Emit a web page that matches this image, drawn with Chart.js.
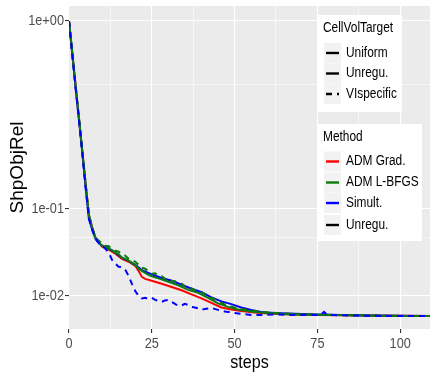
<!DOCTYPE html>
<html>
<head>
<meta charset="utf-8">
<script src="https://cdn.jsdelivr.net/npm/chart.js@4.4.1/dist/chart.umd.min.js"></script>
<style>
  html, body { margin: 0; padding: 0; background: #ffffff; }
  #wrap { width: 430px; height: 378px; position: relative; }
</style>
</head>
<body>
<div id="wrap"><canvas id="chart" width="430" height="378"></canvas></div>
<script>
// ---- axis breaks ----
const yMajorBreaks = [0.01, 0.1, 1];
const yMajorLabels = ['1e-02', '1e-01', '1e+00'];
const yMinorBreaks = [0.055, 0.55];
const xMajorBreaks = [0, 25, 50, 75, 100];
const xMinorBreaks = [12.5, 37.5, 62.5, 87.5];

// ---- ADM Grad. (Uniform) ----
const gradSteps = [0,1,2,3,4,5,6,7,8,9,10,12,14,16,18,20,21,22,23,25,28,31,34,37,40,43,46,49,52,56,60,67,75,90,110];
const gradValues = [1,0.749,0.539,0.377,0.251,0.154,0.0893,0.0688,0.0553,0.0493,0.0449,0.0417,0.0377,0.0330,0.0305,0.0272,0.0235,0.0195,0.0183,0.0172,0.0155,0.0139,0.0123,0.0105,0.00896,0.00739,0.00602,0.00547,0.00508,0.00471,0.00447,0.00424,0.00413,0.00402,0.00391];

// ---- ADM L-BFGS (Uniform) ----
const lbfgsSteps = [0,1,2,3,4,5,6,7,8,9,10,11,12,13,14,15,16,17,18,19,20,21,22,23,24,25,27,30,33,36,39,42,45,48,51,55,58,60,65,70,80,90,100,110];
const lbfgsValues = [1,0.749,0.539,0.377,0.251,0.154,0.0893,0.0688,0.0553,0.0493,0.0460,0.0443,0.0427,0.0412,0.0387,0.0372,0.0339,0.0330,0.0313,0.0296,0.0280,0.0250,0.0235,0.0221,0.0208,0.0199,0.0186,0.0166,0.0147,0.0125,0.0112,0.00915,0.00723,0.00617,0.00547,0.00496,0.00471,0.00459,0.00436,0.00424,0.00413,0.00402,0.00391,0.00391];

// ---- ADM L-BFGS (VIspecific) ----
const lbfgsVISteps = [0,1,2,3,4,5,6,7,8,9,10,11,12,13,14,15,16,17,18,19,20,21,22,23,24,25,26,27,28,29,30,31,32,33,34,35,36,38,40,42,44,46,48,51,55,60,65,70,80,90,100,110];
const lbfgsVIValues = [1,0.749,0.539,0.377,0.251,0.154,0.0893,0.0688,0.0553,0.0517,0.0482,0.0460,0.0454,0.0427,0.0407,0.0396,0.0377,0.0358,0.0330,0.0322,0.0305,0.0280,0.0257,0.0250,0.0232,0.0215,0.0218,0.0202,0.0199,0.0183,0.0186,0.0172,0.0169,0.0155,0.0155,0.0142,0.0139,0.0125,0.0116,0.00993,0.00860,0.00739,0.00646,0.00574,0.00521,0.00471,0.00447,0.00424,0.00413,0.00402,0.00391,0.00391];

// ---- Simult. (Uniform) ----
const simSteps = [0,1,2,3,4,5,6,7,8,9,10,12,14,16,18,20,22,25,28,31,34,37,40,43,46,49,52,55,58,62,66,75,90,110];
const simValues = [1,0.74,0.53,0.37,0.245,0.1465,0.0826,0.066,0.054,0.049,0.046,0.0427,0.0387,0.0339,0.0313,0.0280,0.0240,0.0211,0.0188,0.0172,0.0150,0.0130,0.0115,0.00934,0.00789,0.0070,0.00602,0.0053,0.00483,0.0046,0.00447,0.00424,0.00402,0.00391];

// ---- Simult. (VIspecific) ----
const simVISteps = [0,1,2,3,4,5,6,7,8,9,10,11,12,13,14,15,16,17,18,19,20,21,22,23,24,25,26,27,28,29,30,31,32,33,34,35,36,37,38,39,40,41,42,43,44,45,46,47,48,49,50,52,55,58,62,66,70,76,77,78,85,95,110];
const simVIValues = [1,0.74,0.53,0.37,0.245,0.1465,0.0826,0.066,0.054,0.049,
  0.0460,0.0427,0.0387,0.0321,0.0288,0.0265,0.0261,0.0242,0.0202,0.0155,
  0.0120,0.00993,0.00896,0.00915,0.00878,0.00915,0.00842,0.00807,0.00773,0.00824,
  0.00842,0.00773,0.00708,0.00646,0.00661,0.00708,0.00676,0.00617,0.00602,0.00574,
  0.00534,0.00561,0.00574,0.00588,0.00561,0.00534,0.00508,0.00496,0.00483,0.00483,
  0.00459,0.00436,0.00413,0.00413,0.00424,0.00413,0.00413,0.00413,0.00483,0.00413,0.00402,0.00391,0.00391];

// ---- legend entries ----
const cellVolTargets = ['Uniform', 'Unregu.', 'VIspecific'];
const methods = ['ADM Grad.', 'ADM L-BFGS', 'Simult.', 'Unregu.'];
const methodColors = ['#ff0000', '#0a7a0a', '#0000ff', '#000000'];

const FONT = "'Liberation Sans', Arial, sans-serif";
const TEXT_SQUEEZE = 0.85;   // horizontal squeeze for upright labels

const canvas = document.getElementById('chart');
const ctx2d = canvas.getContext('2d');
// Upright text is drawn slightly condensed; rotated text (axis title) is left as is.
const baseFillText = ctx2d.fillText.bind(ctx2d);
ctx2d.fillText = function (text, x, y, maxWidth) {
  const m = this.getTransform();
  if (Math.abs(m.b) > 1e-6 || Math.abs(m.c) > 1e-6) {
    return maxWidth === undefined ? baseFillText(text, x, y) : baseFillText(text, x, y, maxWidth);
  }
  this.save();
  this.translate(x, y);
  this.scale(TEXT_SQUEEZE, 1);
  if (maxWidth === undefined) baseFillText(text, 0, 0);
  else baseFillText(text, 0, 0, maxWidth / TEXT_SQUEEZE);
  this.restore();
};

// Cube-root y scale: linear in v^(1/3)
class CubeRootScale extends Chart.LinearScale {
  getPixelForValue(value) {
    if (value === null || value === undefined) return NaN;
    const a = Math.cbrt(this.min), b = Math.cbrt(this.max);
    return this.getPixelForDecimal((Math.cbrt(value) - a) / (b - a));
  }
  getValueForPixel(pixel) {
    const a = Math.cbrt(this.min), b = Math.cbrt(this.max);
    const t = a + this.getDecimalForPixel(pixel) * (b - a);
    return t * t * t;
  }
}
CubeRootScale.id = 'cuberoot';
CubeRootScale.defaults = {};
Chart.register(CubeRootScale);

const pts = (xs, ys) => xs.map((x, i) => ({ x: x, y: ys[i] }));

function series(label, xs, ys, color, dashed, order) {
  return {
    label: label,
    data: pts(xs, ys),
    borderColor: color,
    backgroundColor: color,
    borderWidth: 2,
    borderDash: dashed ? [6, 5] : [],
    pointRadius: 0,
    tension: 0,
    fill: false,
    order: order
  };
}

const isMajorY = v => yMajorBreaks.some(b => Math.abs(b - v) < 1e-9);
const isMajorX = v => xMajorBreaks.includes(v);

// grey panel behind the grid
const panelBackground = {
  id: 'panelBackground',
  beforeDraw(chart) {
    const { ctx, chartArea: a } = chart;
    ctx.save();
    ctx.fillStyle = '#ebebeb';
    ctx.fillRect(a.left, a.top, a.right - a.left, a.bottom - a.top);
    ctx.restore();
  }
};

// two ggplot-style legend boxes
const legendBoxes = {
  id: 'legendBoxes',
  afterDraw(chart) {
    const ctx = chart.ctx;
    ctx.save();
    const drawBox = (x, y, w, h, title, titleY, entries) => {
      ctx.fillStyle = '#ffffff';
      ctx.fillRect(x, y, w, h);
      ctx.fillStyle = '#000000';
      ctx.font = '14px ' + FONT;
      ctx.textBaseline = 'middle';
      ctx.textAlign = 'left';
      ctx.fillText(title, x + 6, titleY);
      entries.forEach(e => {
        ctx.fillStyle = '#f2f2f2';
        ctx.fillRect(x + 7, e.y - 10, 17, 20);
        ctx.strokeStyle = e.color;
        ctx.lineWidth = 2.4;
        ctx.setLineDash(e.dash || []);
        ctx.beginPath();
        ctx.moveTo(x + 9, e.y);
        ctx.lineTo(x + 22, e.y);
        ctx.stroke();
        ctx.setLineDash([]);
        ctx.fillStyle = '#000000';
        ctx.fillText(e.label, x + 29, e.y);
      });
    };
    drawBox(317, 15, 85, 97, 'CellVolTarget', 28, [
      { label: cellVolTargets[0], y: 53, color: '#000000' },
      { label: cellVolTargets[1], y: 73.5, color: '#000000' },
      { label: cellVolTargets[2], y: 94, color: '#000000', dash: [6, 5] }
    ]);
    drawBox(317, 124, 105, 117, 'Method', 137, [
      { label: methods[0], y: 161.5, color: methodColors[0] },
      { label: methods[1], y: 182.5, color: methodColors[1] },
      { label: methods[2], y: 203, color: methodColors[2] },
      { label: methods[3], y: 225, color: methodColors[3] }
    ]);
    ctx.restore();
  }
};

new Chart(canvas, {
  type: 'line',
  data: {
    datasets: [
      series('ADM Grad. / Uniform', gradSteps, gradValues, methodColors[0], false, 5),
      series('Simult. / Uniform', simSteps, simValues, methodColors[2], false, 4),
      series('ADM L-BFGS / Uniform', lbfgsSteps, lbfgsValues, methodColors[1], false, 3),
      series('ADM L-BFGS / VIspecific', lbfgsVISteps, lbfgsVIValues, methodColors[1], true, 2),
      series('Simult. / VIspecific', simVISteps, simVIValues, methodColors[2], true, 1)
    ]
  },
  options: {
    responsive: false,
    animation: false,
    devicePixelRatio: 1,
    layout: { padding: { top: 6, left: 0, right: 0, bottom: 0 } },
    plugins: { legend: { display: false }, tooltip: { enabled: false } },
    scales: {
      x: {
        type: 'linear',
        min: 0,
        max: 109,
        afterBuildTicks(scale) {
          scale.ticks = xMajorBreaks.concat(xMinorBreaks).sort((a, b) => a - b).map(v => ({ value: v }));
        },
        afterFit(scale) {
          scale.height = 49;
          scale.paddingLeft = 0;
          scale.paddingRight = 0;
        },
        border: { display: false },
        grid: {
          color: '#ffffff',
          lineWidth: c => (c.tick && isMajorX(c.tick.value)) ? 1.1 : 0.55,
          tickColor: c => (c.tick && isMajorX(c.tick.value)) ? '#333333' : 'rgba(0,0,0,0)',
          tickLength: 4,
          tickWidth: 1.1
        },
        ticks: {
          autoSkip: false,
          maxRotation: 0,
          padding: 2,
          color: '#4d4d4d',
          font: { family: FONT, size: 15 },
          callback: v => isMajorX(v) ? String(v) : ''
        },
        title: {
          display: true,
          text: 'steps',
          color: '#000000',
          font: { family: FONT, size: 19 },
          padding: { top: 0, bottom: 4 }
        }
      },
      y: {
        type: 'cuberoot',
        min: 0.00174,
        max: 1.134,
        afterBuildTicks(scale) {
          scale.ticks = yMajorBreaks.concat(yMinorBreaks).sort((a, b) => a - b).map(v => ({ value: v }));
        },
        afterFit(scale) {
          scale.width = 69;
          scale.paddingTop = 0;
          scale.paddingBottom = 0;
        },
        border: { display: false },
        grid: {
          color: '#ffffff',
          lineWidth: c => (c.tick && isMajorY(c.tick.value)) ? 1.1 : 0.55,
          tickColor: c => (c.tick && isMajorY(c.tick.value)) ? '#333333' : 'rgba(0,0,0,0)',
          tickLength: 4,
          tickWidth: 1.1
        },
        ticks: {
          autoSkip: false,
          padding: 1,
          color: '#4d4d4d',
          font: { family: FONT, size: 15 },
          callback: v => {
            const i = yMajorBreaks.findIndex(b => Math.abs(b - v) < 1e-9);
            return i >= 0 ? yMajorLabels[i] : '';
          }
        },
        title: {
          display: true,
          text: 'ShpObjRel',
          color: '#000000',
          font: { family: FONT, size: 19 },
          padding: { top: 6, bottom: 0 }
        }
      }
    }
  },
  plugins: [panelBackground, legendBoxes]
});
</script>
</body>
</html>
